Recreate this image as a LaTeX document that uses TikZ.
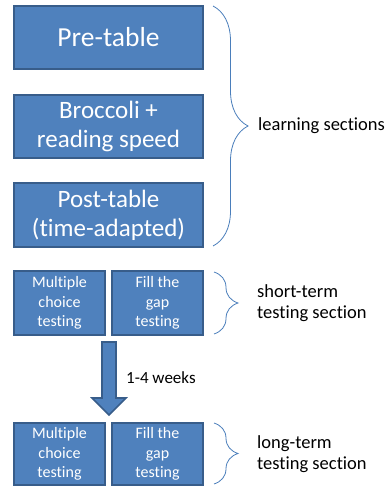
\documentclass[tikz,border=0pt]{standalone}
\usepackage{fontspec}
\setmainfont{Carlito}[Ligatures=NoCommon]
\usetikzlibrary{decorations.pathreplacing}
\definecolor{boxblue}{HTML}{4F81BD}
\definecolor{boxedge}{HTML}{385D8A}
\definecolor{bracecol}{HTML}{4A7EBB}
\tikzset{
  bigbox/.style={draw=boxedge, fill=boxblue, line width=1.6pt, text=white, align=center, inner sep=0pt},
  smallbox/.style={draw=boxedge, fill=boxblue, line width=1.6pt, text=white, align=center, inner sep=0pt},
  bracestyle/.style={draw=bracecol, line width=0.8pt, decorate, decoration={brace, amplitude=#1}},
  lbl/.style={align=left, anchor=west, inner sep=0pt, text=black},
}
\begin{document}
\begin{tikzpicture}[x=1pt, y=-1pt]
\useasboundingbox (0,0) rectangle (390,489);
% big boxes
\node[bigbox, minimum width=189pt, minimum height=63pt, font=\fontsize{27.5}{32}\selectfont] (pre) at (108.5,37.5) {Pre-table};
\node[bigbox, minimum width=189pt, minimum height=63pt, font=\fontsize{25}{29}\selectfont] (broc) at (108.5,126.5) {Broccoli +\\reading speed};
\node[bigbox, minimum width=189pt, minimum height=64pt, font=\fontsize{25}{29}\selectfont] (post) at (108.5,215) {Post-table\\(time-adapted)};
% short-term boxes
\node[smallbox, minimum width=91pt, minimum height=64pt, font=\fontsize{16}{19.5}\selectfont] (mc1) at (59.5,303) {Multiple\\choice\\testing};
\node[smallbox, minimum width=91pt, minimum height=64pt, font=\fontsize{16}{19.5}\selectfont] (fg1) at (157.5,303) {Fill the\\gap\\testing};
% long-term boxes
\node[smallbox, minimum width=91pt, minimum height=62pt, font=\fontsize{16}{19.5}\selectfont] (mc2) at (59.5,454) {Multiple\\choice\\testing};
\node[smallbox, minimum width=91pt, minimum height=62pt, font=\fontsize{16}{19.5}\selectfont] (fg2) at (157.5,454) {Fill the\\gap\\testing};
% arrow
\draw[boxedge, fill=boxblue, line width=1.6pt, line join=miter]
  (102,342) -- (116,342) -- (116,398) -- (126,398) -- (109,415) -- (92,398) -- (102,398) -- cycle;
\node[lbl, font=\fontsize{17}{20}\selectfont] (weeks) at (126,378) {1-4 weeks};
% braces
\draw[bracestyle=35pt] (213,6) -- (213,246);
\node[lbl, font=\fontsize{18.5}{22}\selectfont] (learn) at (258,126) {learning sections};
\draw[bracestyle=24pt] (214,272) -- (214,334);
\node[lbl, font=\fontsize{18.5}{21}\selectfont] (short) at (257,303) {short-term\\testing section};
\draw[bracestyle=24pt] (214,423) -- (214,484);
\node[lbl, font=\fontsize{18.5}{21}\selectfont] (long) at (257,454) {long-term\\testing section};
\end{tikzpicture}
\end{document}
